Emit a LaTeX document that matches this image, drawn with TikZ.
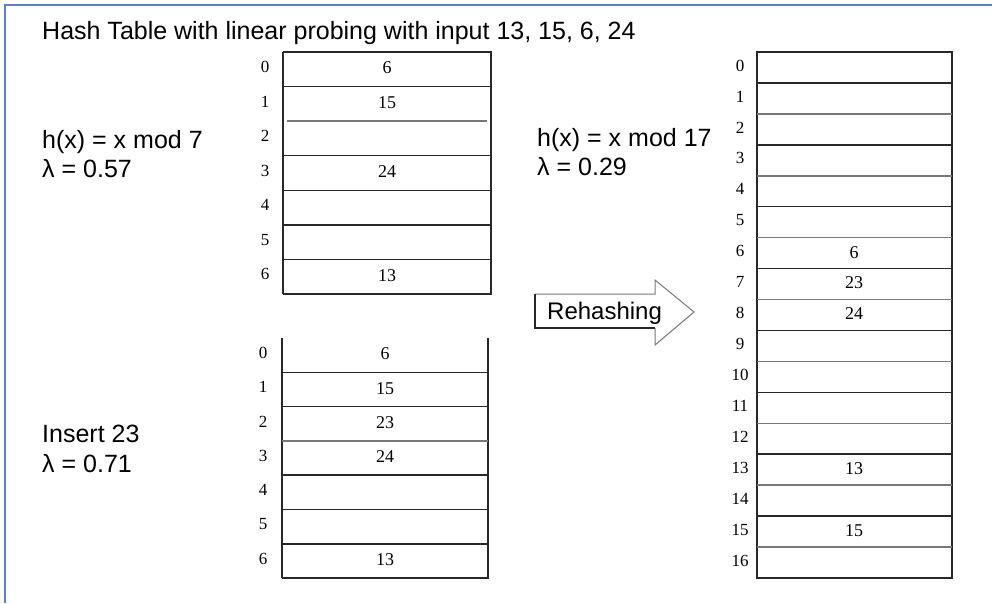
\documentclass[tikz,border=0pt]{standalone}
\usepackage{fontspec}
\setmainfont{Liberation Serif}
\newfontfamily\arialf{Liberation Sans}
\definecolor{frameblue}{RGB}{90,125,220}
\definecolor{linedark}{RGB}{40,40,40}
\definecolor{linelight}{RGB}{120,120,120}
\begin{document}
\begin{tikzpicture}[x=1pt,y=-1pt,
  sanstxt/.style={anchor=base west, inner sep=0pt, font=\arialf\fontsize{25}{30}\selectfont},
  cellnum/.style={inner sep=0pt, font=\fontsize{18}{18}\selectfont},
  idxnum/.style={inner sep=0pt, font=\fontsize{17}{17}\selectfont},
  outerline/.style={draw=linedark, line width=2pt},
  innerdark/.style={draw=linedark, line width=1.5pt},
  innerlight/.style={draw=linelight, line width=1.5pt}]
\useasboundingbox (0,0) rectangle (992,603);
\fill[white] (0,0) rectangle (992,603);
\draw[frameblue, line width=2pt] (5,603) -- (5,5) -- (992,5);

% texts
\node[sanstxt] (title) at (42,39) {Hash Table with linear probing with input 13, 15, 6, 24};
\node[sanstxt] (h7) at (42,148) {h(x) = x mod 7};
\node[sanstxt] (l7) at (42,177) {λ = 0.57};
\node[sanstxt] (h17) at (537,146) {h(x) = x mod 17};
\node[sanstxt] (l17) at (537,175) {λ = 0.29};
\node[sanstxt] (ins) at (42,442) {Insert 23};
\node[sanstxt] (l71) at (42,472) {λ = 0.71};

% table 1
\draw[linedark, line width=1.2pt] (283,52) -- (283,294);
\draw[outerline] (283,52) -- (491,52) -- (491,294) -- (283,294);
\foreach \k in {1,3,4,5,6} \draw[innerdark] (283,{52+\k*34.57}) -- (491,{52+\k*34.57});
\draw[innerlight] (287,{52+2*34.57}) -- (487,{52+2*34.57});
\foreach \v [count=\i from 0] in {6,15,{},24,{},{},13} {
  \node[cellnum] (ta\i) at (387,{52+\i*34.57+16}) {\v};
  \node[idxnum] (ia\i) at (265,{52+\i*34.57+15}) {\i};
}

% table 2
\draw[linedark, line width=1.2pt] (282,338) -- (282,578);
\draw[outerline] (488,338) -- (488,578) -- (282,578);
\foreach \k in {1,2,4,5,6} \draw[innerdark] (282,{338+\k*34.29}) -- (488,{338+\k*34.29});
\draw[innerlight] (282,{338+3*34.29}) -- (488,{338+3*34.29});
\foreach \v [count=\i from 0] in {6,15,23,24,{},{},13} {
  \node[cellnum] (tb\i) at (385,{338+\i*34.29+16}) {\v};
  \node[idxnum] (ib\i) at (263,{338+\i*34.29+15}) {\i};
}

% arrow
\draw[linelight, line width=1pt] (535,294) -- (655,294) -- (655,280) -- (694,312) -- (655,345) -- (655,328);
\draw[linedark, line width=1.2pt] (535,294) -- (535,328) -- (655,328);
\node[anchor=base west, inner sep=0pt, font=\arialf\fontsize{24}{28}\selectfont] (rh) at (547,319) {Rehashing};

% table 3
\draw[outerline] (757,52) rectangle (952,578);
\foreach \k in {1,3,...,15} \draw[innerdark] (757,{52+\k*30.94}) -- (952,{52+\k*30.94});
\foreach \k in {2,4,...,16} \draw[innerlight] (757,{52+\k*30.94}) -- (952,{52+\k*30.94});
\foreach \v [count=\i from 0] in {{},{},{},{},{},{},6,23,24,{},{},{},{},13,{},15,{}} {
  \node[cellnum] (tc\i) at (854,{52+\i*30.94+14.5}) {\v};
  \node[idxnum] (ic\i) at (740,{52+\i*30.94+13.5}) {\i};
}
\end{tikzpicture}
\end{document}
